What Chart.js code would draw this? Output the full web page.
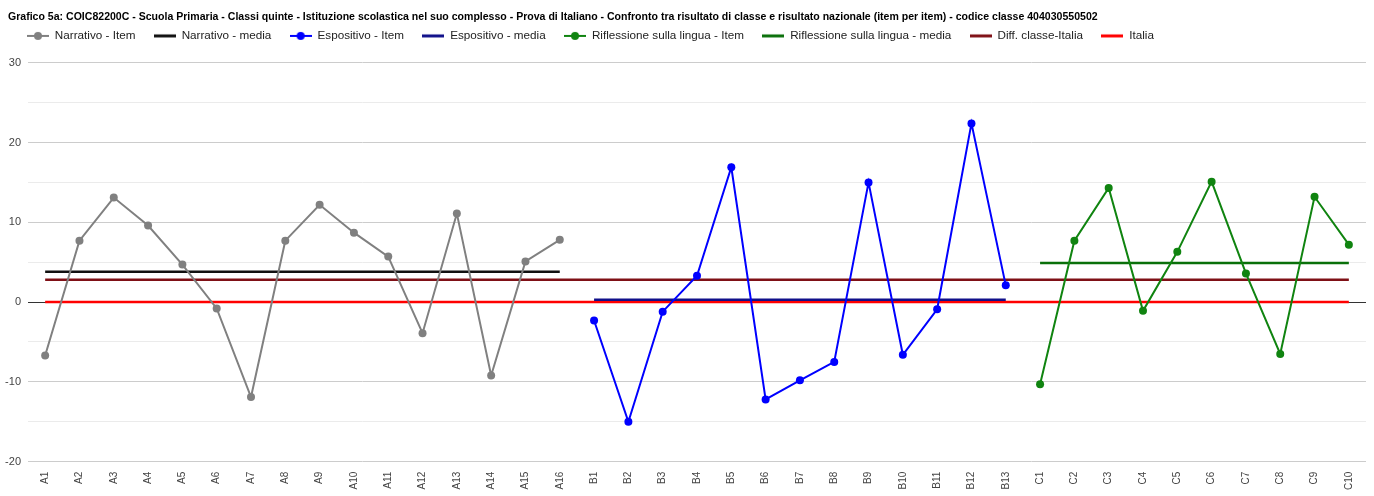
<!DOCTYPE html>
<html>
<head>
<meta charset="utf-8">
<script src="https://cdn.jsdelivr.net/npm/chart.js@4.4.0/dist/chart.umd.min.js"></script>
<style>
  html, body { margin: 0; padding: 0; background: #fff; }
  #contenitore { width: 1374px; height: 496px; }
</style>
</head>
<body>
<div id="contenitore"><canvas id="grafico"></canvas></div>
<script>
// Dati
const titolo = 'Grafico 5a: COIC82200C - Scuola Primaria - Classi quinte - Istituzione scolastica nel suo complesso - Prova di Italiano - Confronto tra risultato di classe e risultato nazionale (item per item) - codice classe 404030550502';

const itemNarrativo = ['A1','A2','A3','A4','A5','A6','A7','A8','A9','A10','A11','A12','A13','A14','A15','A16'];
const itemEspositivo = ['B1','B2','B3','B4','B5','B6','B7','B8','B9','B10','B11','B12','B13'];
const itemRiflessione = ['C1','C2','C3','C4','C5','C6','C7','C8','C9','C10'];

const valoriNarrativo = [-6.7, 7.7, 13.1, 9.6, 4.7, -0.8, -11.9, 7.7, 12.2, 8.7, 5.7, -3.9, 11.1, -9.2, 5.1, 7.8];
const valoriEspositivo = [-2.3, -15.0, -1.2, 3.3, 16.9, -12.2, -9.8, -7.5, 15.0, -6.6, -0.9, 22.4, 2.1];
const valoriRiflessione = [-10.3, 7.7, 14.3, -1.1, 6.3, 15.1, 3.6, -6.5, 13.2, 7.2];

const mediaNarrativo = 3.8;
const mediaEspositivo = 0.3;
const mediaRiflessione = 4.9;
const diffClasseItalia = 2.8;
const valoreItalia = 0;

const tickY = [-20, -10, 0, 10, 20, 30];

// Costruzione delle serie sulle categorie complete
const categorie = [...itemNarrativo, ...itemEspositivo, ...itemRiflessione];

function serieGruppo(gruppo, valori) {
    return categorie.map(c => {
        const i = gruppo.indexOf(c);
        return i >= 0 ? valori[i] : null;
    });
}

function serieCostante(gruppo, valore) {
    return categorie.map(c => gruppo.includes(c) ? valore : null);
}

// Icona della legenda: linea con o senza punto
function iconaLegenda(colore, conPunto, spessore) {
    const c = document.createElement('canvas');
    c.width = 22;
    c.height = 10;
    const ctx = c.getContext('2d');
    ctx.strokeStyle = colore;
    ctx.lineWidth = spessore;
    ctx.beginPath();
    ctx.moveTo(0, 5);
    ctx.lineTo(22, 5);
    ctx.stroke();
    if (conPunto) {
        ctx.fillStyle = colore;
        ctx.beginPath();
        ctx.arc(11, 5, 4, 0, Math.PI * 2);
        ctx.fill();
    }
    return c;
}

const grigio = '#808080';
const blu = '#0000ff';
const verde = '#108410';
const nero = '#111111';
const bluScuro = '#10108a';
const verdeScuro = '#0a700a';
const rossoScuro = '#7f1016';
const rosso = '#ff0000';

function serieItem(nome, dati, colore) {
    return {
        label: nome, data: dati, borderColor: colore, backgroundColor: colore,
        borderWidth: 2, pointRadius: 4, pointHoverRadius: 4, pointBorderWidth: 0,
        spanGaps: false, tension: 0, icona: iconaLegenda(colore, true, 2)
    };
}

function serieLinea(nome, dati, colore, spessore) {
    return {
        label: nome, data: dati, borderColor: colore, backgroundColor: colore,
        borderWidth: spessore, pointRadius: 0, pointHoverRadius: 0,
        spanGaps: false, tension: 0, icona: iconaLegenda(colore, false, 3)
    };
}

const datasets = [
    serieItem('Narrativo - Item', serieGruppo(itemNarrativo, valoriNarrativo), grigio),
    serieLinea('Narrativo - media', serieCostante(itemNarrativo, mediaNarrativo), nero, 2.5),
    serieItem('Espositivo - Item', serieGruppo(itemEspositivo, valoriEspositivo), blu),
    serieLinea('Espositivo - media', serieCostante(itemEspositivo, mediaEspositivo), bluScuro, 2.5),
    serieItem('Riflessione sulla lingua - Item', serieGruppo(itemRiflessione, valoriRiflessione), verde),
    serieLinea('Riflessione sulla lingua - media', serieCostante(itemRiflessione, mediaRiflessione), verdeScuro, 2.5),
    serieLinea('Diff. classe-Italia', serieCostante(categorie, diffClasseItalia), rossoScuro, 2.5),
    serieLinea('Italia', serieCostante(categorie, valoreItalia), rosso, 2.5)
];

const font = '"Liberation Sans", Arial, sans-serif';

// Spazio extra sotto la legenda e piccolo rientro di titolo e legenda
const ritocchiLayout = {
    id: 'ritocchiLayout',
    beforeInit(chart) {
        const fitOriginale = chart.legend.fit;
        chart.legend.fit = function () {
            fitOriginale.call(this);
            this.height += 11;
        };
    },
    afterLayout(chart) {
        chart.titleBlock.left += 4;
        chart.legend.left += 4.6;
    }
};

new Chart(document.getElementById('grafico'), {
    type: 'line',
    data: { labels: categorie, datasets: datasets },
    plugins: [ritocchiLayout],
    options: {
        responsive: true,
        maintainAspectRatio: false,
        animation: false,
        layout: { padding: { left: 4, right: 8, top: 3, bottom: 4 } },
        plugins: {
            title: {
                display: true,
                text: titolo,
                align: 'start',
                color: '#000',
                font: { family: font, size: 10.55, weight: 'bold' },
                padding: { top: 8, bottom: -12 }
            },
            legend: {
                align: 'start',
                labels: {
                    usePointStyle: true,
                    pointStyleWidth: 22,
                    boxHeight: 10,
                    padding: 18.4,
                    color: '#222',
                    font: { family: font, size: 11.7 },
                    generateLabels(chart) {
                        const base = Chart.defaults.plugins.legend.labels.generateLabels(chart);
                        base.forEach(l => { l.pointStyle = chart.data.datasets[l.datasetIndex].icona; });
                        return base;
                    }
                }
            },
            tooltip: { enabled: false }
        },
        scales: {
            x: {
                offset: true,
                grid: { display: false },
                border: { display: false },
                ticks: {
                    autoSkip: false, maxRotation: 90, minRotation: 90,
                    color: '#444', font: { family: font, size: 10 }, padding: 2
                }
            },
            y: {
                min: -20,
                max: 30,
                border: { display: false },
                afterBuildTicks(scale) {
                    const t = [];
                    for (let v = -20; v <= 30; v += 5) t.push({ value: v });
                    scale.ticks = t;
                },
                afterFit(scale) {
                    scale.width = 24;
                },
                grid: {
                    drawTicks: false,
                    lineWidth: 1,
                    color(ctx) {
                        const v = ctx.tick.value;
                        if (v === 0) return '#333';
                        return tickY.includes(v) ? '#cccccc' : '#ebebeb';
                    }
                },
                ticks: {
                    color: '#444',
                    padding: 7,
                    font: { family: font, size: 11 },
                    callback: v => tickY.includes(v) ? String(v) : ''
                }
            }
        }
    }
});
</script>
</body>
</html>
